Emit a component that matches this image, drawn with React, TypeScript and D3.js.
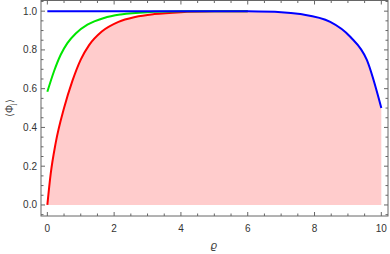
import React from 'react';
import * as d3 from 'd3';

// values
const redRho = [0, 0.1, 0.25, 0.5, 0.75, 1.0, 1.25, 1.63, 2.13, 2.63, 3.2, 4, 5, 6];
const redVal = [0, 0.16, 0.32, 0.5, 0.64, 0.75, 0.825, 0.895, 0.945, 0.97, 0.985, 0.995, 0.999, 1];

const greenRho = [0, 0.2, 0.4, 0.6, 0.85, 1.2, 1.7, 2.2, 3, 4, 5, 6];
const greenVal = [0.584, 0.69, 0.775, 0.835, 0.885, 0.93, 0.965, 0.983, 0.995, 0.999, 1, 1];

const blueRho = [0, 5, 6, 7, 7.57, 8.47, 9.07, 9.57, 10];
const blueVal = [1, 1, 0.999, 0.995, 0.985, 0.945, 0.868, 0.747, 0.5];

const xTicks = [0, 2, 4, 6, 8, 10];
const yTicks = [0, 0.2, 0.4, 0.6, 0.8, 1.0];

const W = 390;
const H = 254;
const frame = { left: 41, right: 388, top: 0.5, bottom: 216 };

const App: React.FC = () => {
  const x = d3.scaleLinear().domain([-0.19, 10.2]).range([frame.left, frame.right]);
  const y = d3.scaleLinear().domain([-0.057, 1.055]).range([frame.bottom, frame.top]);

  const toPts = (rs: number[], vs: number[]) => rs.map((r, i) => [r, vs[i]] as [number, number]);
  const line = d3.line<[number, number]>()
    .x(d => x(d[0]))
    .y(d => y(d[1]))
    .curve(d3.curveMonotoneX);

  // fill under red on the left, under blue on the right
  const fillPts: [number, number][] = [];
  redRho.forEach((r, i) => { if (r < 5) fillPts.push([r, redVal[i]]); });
  blueRho.forEach((r, i) => { if (r >= 5) fillPts.push([r, blueVal[i]]); });
  const area = d3.area<[number, number]>()
    .x(d => x(d[0]))
    .y0(y(0))
    .y1(d => y(d[1]))
    .curve(d3.curveMonotoneX);

  const xMinor = d3.range(0, 10.01, 0.5).filter(v => !xTicks.includes(v));
  const yMinor = d3.range(-0.05, 1.051, 0.05).map(v => +v.toFixed(2)).filter(v => !yTicks.some(t => Math.abs(t - v) < 1e-6));

  const frameColor = '#666';
  const font = 'Liberation Sans, Arial, sans-serif';

  return (
    <svg width={W} height={H} style={{ position: 'absolute', left: 0, top: 0 }}>
      <path d={area(fillPts) || ''} fill="#ffcccc" />
      <path d={line(toPts(redRho, redVal)) || ''} fill="none" stroke="#ff0000" strokeWidth={2} />
      <path d={line(toPts(greenRho, greenVal)) || ''} fill="none" stroke="#00e600" strokeWidth={2} />
      <path d={line(toPts(blueRho, blueVal)) || ''} fill="none" stroke="#0000ff" strokeWidth={2} />

      <rect x={frame.left} y={frame.top} width={frame.right - frame.left} height={frame.bottom - frame.top}
        fill="none" stroke={frameColor} strokeWidth={1} />

      {xTicks.map(t => (
        <g key={'xt' + t}>
          <line x1={x(t)} x2={x(t)} y1={frame.bottom} y2={frame.bottom - 4} stroke={frameColor} />
          <line x1={x(t)} x2={x(t)} y1={frame.top} y2={frame.top + 4} stroke={frameColor} />
          <text x={x(t)} y={frame.bottom + 16} textAnchor="middle" fontSize={10} fontFamily={font} fill="#333">{t}</text>
        </g>
      ))}
      {xMinor.map(t => (
        <g key={'xm' + t}>
          <line x1={x(t)} x2={x(t)} y1={frame.bottom} y2={frame.bottom - 2.5} stroke={frameColor} />
          <line x1={x(t)} x2={x(t)} y1={frame.top} y2={frame.top + 2.5} stroke={frameColor} />
        </g>
      ))}
      {yTicks.map(t => (
        <g key={'yt' + t}>
          <line x1={frame.left} x2={frame.left + 4} y1={y(t)} y2={y(t)} stroke={frameColor} />
          <line x1={frame.right} x2={frame.right - 4} y1={y(t)} y2={y(t)} stroke={frameColor} />
          <text x={frame.left - 4} y={y(t) + 3.5} textAnchor="end" fontSize={10} fontFamily={font} fill="#333">{t.toFixed(1)}</text>
        </g>
      ))}
      {yMinor.map(t => (
        <g key={'ym' + t}>
          <line x1={frame.left} x2={frame.left + 2.5} y1={y(t)} y2={y(t)} stroke={frameColor} />
          <line x1={frame.right} x2={frame.right - 2.5} y1={y(t)} y2={y(t)} stroke={frameColor} />
        </g>
      ))}

      <text x={214} y={249} textAnchor="middle" fontSize={11} fontStyle="italic" fontFamily={font} fill="#444">ϱ</text>
      <text transform={`translate(13,${(frame.top + frame.bottom) / 2}) rotate(-90)`} textAnchor="middle"
        fontSize={10} fontFamily={font} fill="#444">⟨Φ<tspan fontSize={7} dy={2}>j</tspan><tspan dy={-2}>⟩</tspan></text>
    </svg>
  );
};

export default App;
